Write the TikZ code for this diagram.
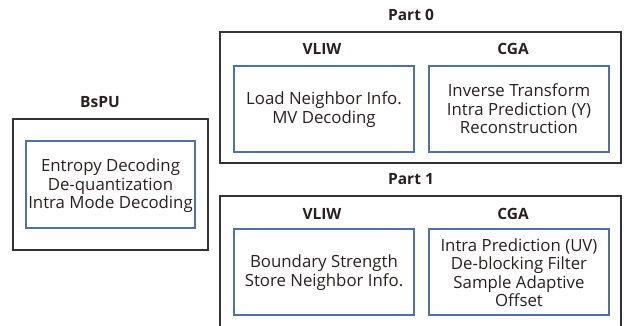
\documentclass[tikz,border=0pt]{standalone}
\usepackage{fontspec}
\setmainfont{Open Sans}
\definecolor{framegray}{HTML}{333333}
\definecolor{unitblue}{HTML}{4F72A6}
\definecolor{txt}{HTML}{2B2020}
\begin{document}
\begin{tikzpicture}[x=1pt,y=-1pt,
  outerbox/.style={draw=framegray,line width=1.4pt},
  unitbox/.style={draw=unitblue,line width=1.4pt,fill=white},
  unittext/.style={text=txt,font=\fontsize{16.8}{18.4}\selectfont,align=center,inner sep=0pt},
  heading/.style={text=txt,font=\bfseries\fontsize{15.5}{16}\selectfont}]
\useasboundingbox (0,0) rectangle (627,325);
% BsPU
\draw[outerbox] (13,119) rectangle (208,250);
\node[heading] (bspu) at (100,102) {BsPU};
\draw[unitbox] (26,141) rectangle (195,228);
\node[unittext] (bspuU) at (110.5,186) {Entropy Decoding\\De-quantization\\Intra Mode Decoding};
% Part 0
\node[heading] (p0) at (411,15) {Part 0};
\draw[outerbox] (220,32) rectangle (621,163);
\node[heading] (p0v) at (322,49) {VLIW};
\node[heading] (p0c) at (513,49) {CGA};
\draw[unitbox] (234,66) rectangle (414,152);
\draw[unitbox] (429,66) rectangle (609,152);
\node[unittext] (p0vU) at (324,109.5) {Load Neighbor Info.\\MV Decoding};
\node[unittext] (p0cU) at (519,109) {Inverse Transform\\Intra Prediction (Y)\\Reconstruction};
% Part 1 (frame runs past the lower edge)
\node[heading] (p1) at (411,179) {Part 1};
\draw[outerbox] (220,340) -- (220,196) -- (621,196) -- (621,340);
\node[heading] (p1v) at (322,214) {VLIW};
\node[heading] (p1c) at (513,214) {CGA};
\draw[unitbox] (234,229) rectangle (414,315);
\draw[unitbox] (429,229) rectangle (609,315);
\node[unittext] (p1vU) at (324,272.5) {Boundary Strength\\Store Neighbor Info.};
\node[unittext] (p1cU) at (519,272.5) {Intra Prediction (UV)\\De-blocking Filter\\Sample Adaptive\\Offset};
\end{tikzpicture}
\end{document}
